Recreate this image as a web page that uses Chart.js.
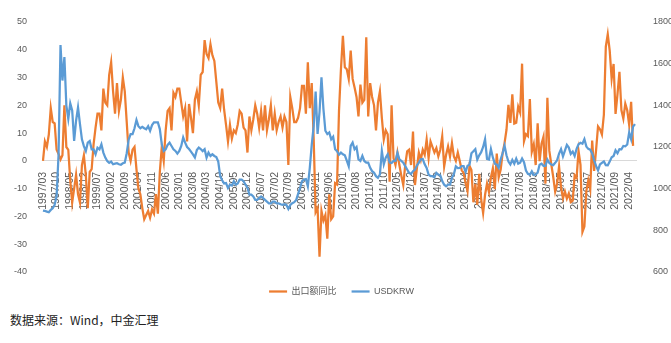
<!DOCTYPE html>
<html>
<head>
<meta charset="utf-8">
<script src="https://cdn.jsdelivr.net/npm/chart.js@4"></script>
<style>
    body { margin: 0; background: #fff; }
    #wrap { position: relative; width: 671px; height: 343px; }
    #chart { position: absolute; left: 0; top: 0; }
    #source {
        position: absolute; left: 10px; top: 311px;
        font: 12px "Noto Sans CJK SC", sans-serif; color: #222;
    }
</style>
</head>
<body>
<div id="wrap">
    <canvas id="chart" width="671" height="306"></canvas>
    <div id="source">数据来源：Wind，中金汇理</div>
</div>
<script>
// monthly series, first month 1997/03
const startYear = 1997;
const startMonth = 3;

// 出口额同比 (%)
const exportYoY = [
    0, 7, 5, 9.5, 19, 14, 13.5, 4, 2.5, 0.5,
    2, 20, 5, 4, -7, -15, -10, -5, -12, -15, -1.5, 2,
    -5, -17, -4, -3, 6, 12, 17, 17, 11, 26, 21, 20,
    31, 35.5, 25, 17, 28, 18, 22, 30, 25, 14, 3, 0,
    4, 5, -3, -10, -12, -17, -21, -19.5, -18, -20.5, -17.5, -19,
    -12, -19, -4, 5, 0, 11, 18, 19, 11, 24.5, 23, 26,
    26, 21, 16, 19, 7, 20.5, 15.5, 10, 22, 25, 20, 31,
    32, 43.5, 38.5, 37, 42, 38, 36, 28.5, 21, 19, 26, 18.5,
    13, 7, 13, 8, 11, 10, 13, 18, 17, 12, 11, 3,
    16, 11, 15, 20, 17, 12, 18, 11, 20, 11, 15, 20,
    11, 17, 11, 14, 16, 12, 16, 14, -1.5, 23, 19, 14,
    14, 15.5, 19, 27, 27, 17, 35.5, 19, 28, 8, -18.5, -17,
    -34.5, -18, -21.5, -19.5, -28, -12, -21, -20, -8, -8.5, 18, 33,
    45, 33.7, 33, 29.5, 39.7, 29.5, 26.4, 23, 16, 27.5, 21, 22,
    44.5, 16, 28, 23, 20, 11, 21, 25, 15.5, 7.7, 11, 9.6,
    -7.5, 20, 1, -1.5, 3, -1.5, -5.3, -8.7, -1.5, 3.4, 4, -1.5,
    10.6, -8.7, -2.6, 3, 0.4, 4, 2.2, 7.7, 1, 7, 5, 3,
    4.6, 1.6, 4, 8.8, -2, 2.2, 5.2, 1.6, 6.4, 1.6, 0, 3,
    0, -3.4, -4.3, -8, -10.9, -1.8, -3.3, -14.9, -8.3, -15.8, -4.7, -13.8,
    -18.8, -12.2, -8.2, -11.2, -6, -2.7, -10.2, 2.6, -5.9, -3.2, 2.7, 6.4,
    11.2, 20.2, 13.7, 24, 13.4, 13.7, 19.5, 17.4, 35, 7.1, 9.6, 8.9,
    22.3, 3.3, 6, -1.5, 13.5, -0.1, 6.2, 8.7, -8.2, 22.7, 3.6, -1.2,
    -5.8, -11.1, -8.2, -2, -9.4, -13.5, -11, -13.6, -11.7, -14.8, -14.3, -5.2,
    -6.1, 3.6, -1.4, -25.6, -23.6, -10.9, -7, -10.3, 7.3, -3.6, 3.9, 12.4,
    11.4, 9.5, 16.6, 41.1, 45.6, 39.7, 29.6, 34.9, 16.9, 24, 32.1, 18.3,
    15.2, 20.6, 18.2, 12.9, 21.3, 5.4, null
];

// USDKRW, month end
const usdkrw = [
    895, 893, 890, 887, 898, 906, 922, 965, 1163, 1689,
    1519, 1632, 1400, 1335, 1410, 1375, 1229, 1326, 1390, 1310, 1237, 1204,
    1181, 1221, 1229, 1189, 1189, 1165, 1197, 1189, 1213, 1173, 1149, 1133,
    1124, 1130, 1117, 1120, 1122, 1117, 1115, 1122, 1125, 1170, 1235, 1262,
    1262, 1290, 1330, 1300, 1290, 1297, 1290, 1285, 1300, 1278, 1305, 1318,
    1318, 1318, 1286, 1213, 1181, 1189, 1210, 1221, 1205, 1189, 1181, 1168,
    1181, 1205, 1246, 1221, 1200, 1190, 1178, 1165, 1150, 1185, 1197, 1190,
    1180, 1189, 1149, 1173, 1157, 1165, 1157, 1152, 1130, 1060, 1040, 1025,
    1027, 1003, 1019, 1015, 1036, 1019, 1025, 1044, 1044, 1036, 1019, 1005,
    971, 971, 963, 946, 946, 955, 963, 955, 946, 938, 930, 930,
    938, 938, 930, 930, 925, 922, 925, 922, 903, 922, 930, 935,
    945, 975, 1003, 1036, 1044, 1046, 1011, 1100, 1210, 1300, 1466, 1263,
    1368, 1534, 1383, 1278, 1262, 1270, 1237, 1249, 1189, 1180, 1163, 1173,
    1165, 1160, 1135, 1108, 1205, 1221, 1189, 1200, 1141, 1133, 1157, 1133,
    1125, 1125, 1100, 1084, 1076, 1060, 1052, 1068, 1181, 1117, 1149, 1165,
    1125, 1123, 1133, 1133, 1173, 1141, 1133, 1125, 1108, 1092, 1076, 1071,
    1084, 1092, 1111, 1125, 1141, 1142, 1117, 1100, 1068, 1060, 1060, 1055,
    1076, 1068, 1064, 1036, 1019, 1011, 1019, 1019, 1052, 1070, 1107, 1099,
    1100, 1108, 1108, 1080, 1110, 1115, 1170, 1180, 1190, 1140, 1160, 1175,
    1200, 1237, 1143, 1140, 1190, 1150, 1120, 1115, 1100, 1140, 1170, 1207,
    1160, 1130, 1116, 1138, 1120, 1144, 1120, 1125, 1145, 1127, 1087, 1071,
    1067, 1083, 1066, 1068, 1077, 1115, 1120, 1110, 1110, 1140, 1123, 1116,
    1113, 1124, 1137, 1168, 1190, 1155, 1183, 1210, 1197, 1167, 1178, 1157,
    1191, 1213, 1220, 1216, 1238, 1203, 1191, 1187, 1169, 1136, 1109, 1088,
    1116, 1124, 1131, 1113, 1112, 1130, 1151, 1157, 1184, 1170, 1190, 1189,
    1205, 1203, 1212, 1270, 1237, 1298, 1310
];

const seriesNames = ['出口额同比', 'USDKRW'];
const leftTicks = { min: -40, max: 50, step: 10 };
const rightTicks = { min: 600, max: 1800, step: 200 };
const labelEvery = 7;

function buildMonths(count) {
    let months = [];
    for(let i = 0; i < count; i++) {
        let m = startMonth - 1 + i;
        let y = startYear + Math.floor(m / 12);
        months.push(y + '/' + String(m % 12 + 1).padStart(2, '0'));
    }
    return months;
}

const months = buildMonths(usdkrw.length);
const fontFamily = '"Liberation Sans", "Noto Sans CJK SC", sans-serif';
const textColor = '#595959';

let ctx = document.getElementById('chart').getContext('2d');
ctx.chart = new Chart(ctx, {
    type: 'line',
    data: {
        labels: months,
        datasets: [{
            label: seriesNames[0],
            data: exportYoY,
            yAxisID: 'y',
            borderColor: '#ED7D31',
            backgroundColor: '#ED7D31',
            borderWidth: 2.25,
            pointRadius: 0,
            order: 1
        }, {
            label: seriesNames[1],
            data: usdkrw,
            yAxisID: 'y1',
            borderColor: '#5B9BD5',
            backgroundColor: '#5B9BD5',
            borderWidth: 2.25,
            pointRadius: 0,
            order: 0
        }]
    },
    options: {
        responsive: false,
        animation: false,
        // left padding nudges the legend a bit right of centre
        layout: { padding: { top: 22, left: 12, right: 0, bottom: 0 } },
        plugins: {
            tooltip: { enabled: false },
            legend: {
                position: 'bottom',
                labels: {
                    usePointStyle: true,
                    pointStyle: 'line',
                    pointStyleWidth: 18,
                    boxHeight: 9,
                    padding: 15,
                    color: textColor,
                    font: { family: fontFamily, size: 9 },
                    sort: (a, b) => a.datasetIndex - b.datasetIndex
                }
            }
        },
        scales: {
            x: {
                position: { y: 0 },
                offset: true,
                grid: { display: false },
                border: { color: '#d9d9d9', width: 1 },
                ticks: {
                    autoSkip: false,
                    minRotation: 90,
                    maxRotation: 90,
                    padding: 3,
                    color: textColor,
                    font: { family: fontFamily, size: 10.5 },
                    callback: function(value, index) {
                        return index % labelEvery === 0 ? this.getLabelForValue(value) : null;
                    }
                }
            },
            y: {
                position: 'left',
                min: leftTicks.min,
                max: leftTicks.max,
                grid: { display: false },
                border: { display: false },
                ticks: {
                    stepSize: leftTicks.step,
                    padding: 7,
                    color: textColor,
                    font: { family: fontFamily, size: 9 },
                    callback: (value) => String(value)
                },
                afterFit: function(scale) { scale.width = 30; }
            },
            y1: {
                position: 'right',
                min: rightTicks.min,
                max: rightTicks.max,
                grid: { display: false },
                border: { display: false },
                ticks: {
                    stepSize: rightTicks.step,
                    padding: 9,
                    color: textColor,
                    font: { family: fontFamily, size: 9 },
                    callback: (value) => String(value)
                },
                afterFit: function(scale) { scale.width = 35; }
            }
        }
    }
});
</script>
</body>
</html>
